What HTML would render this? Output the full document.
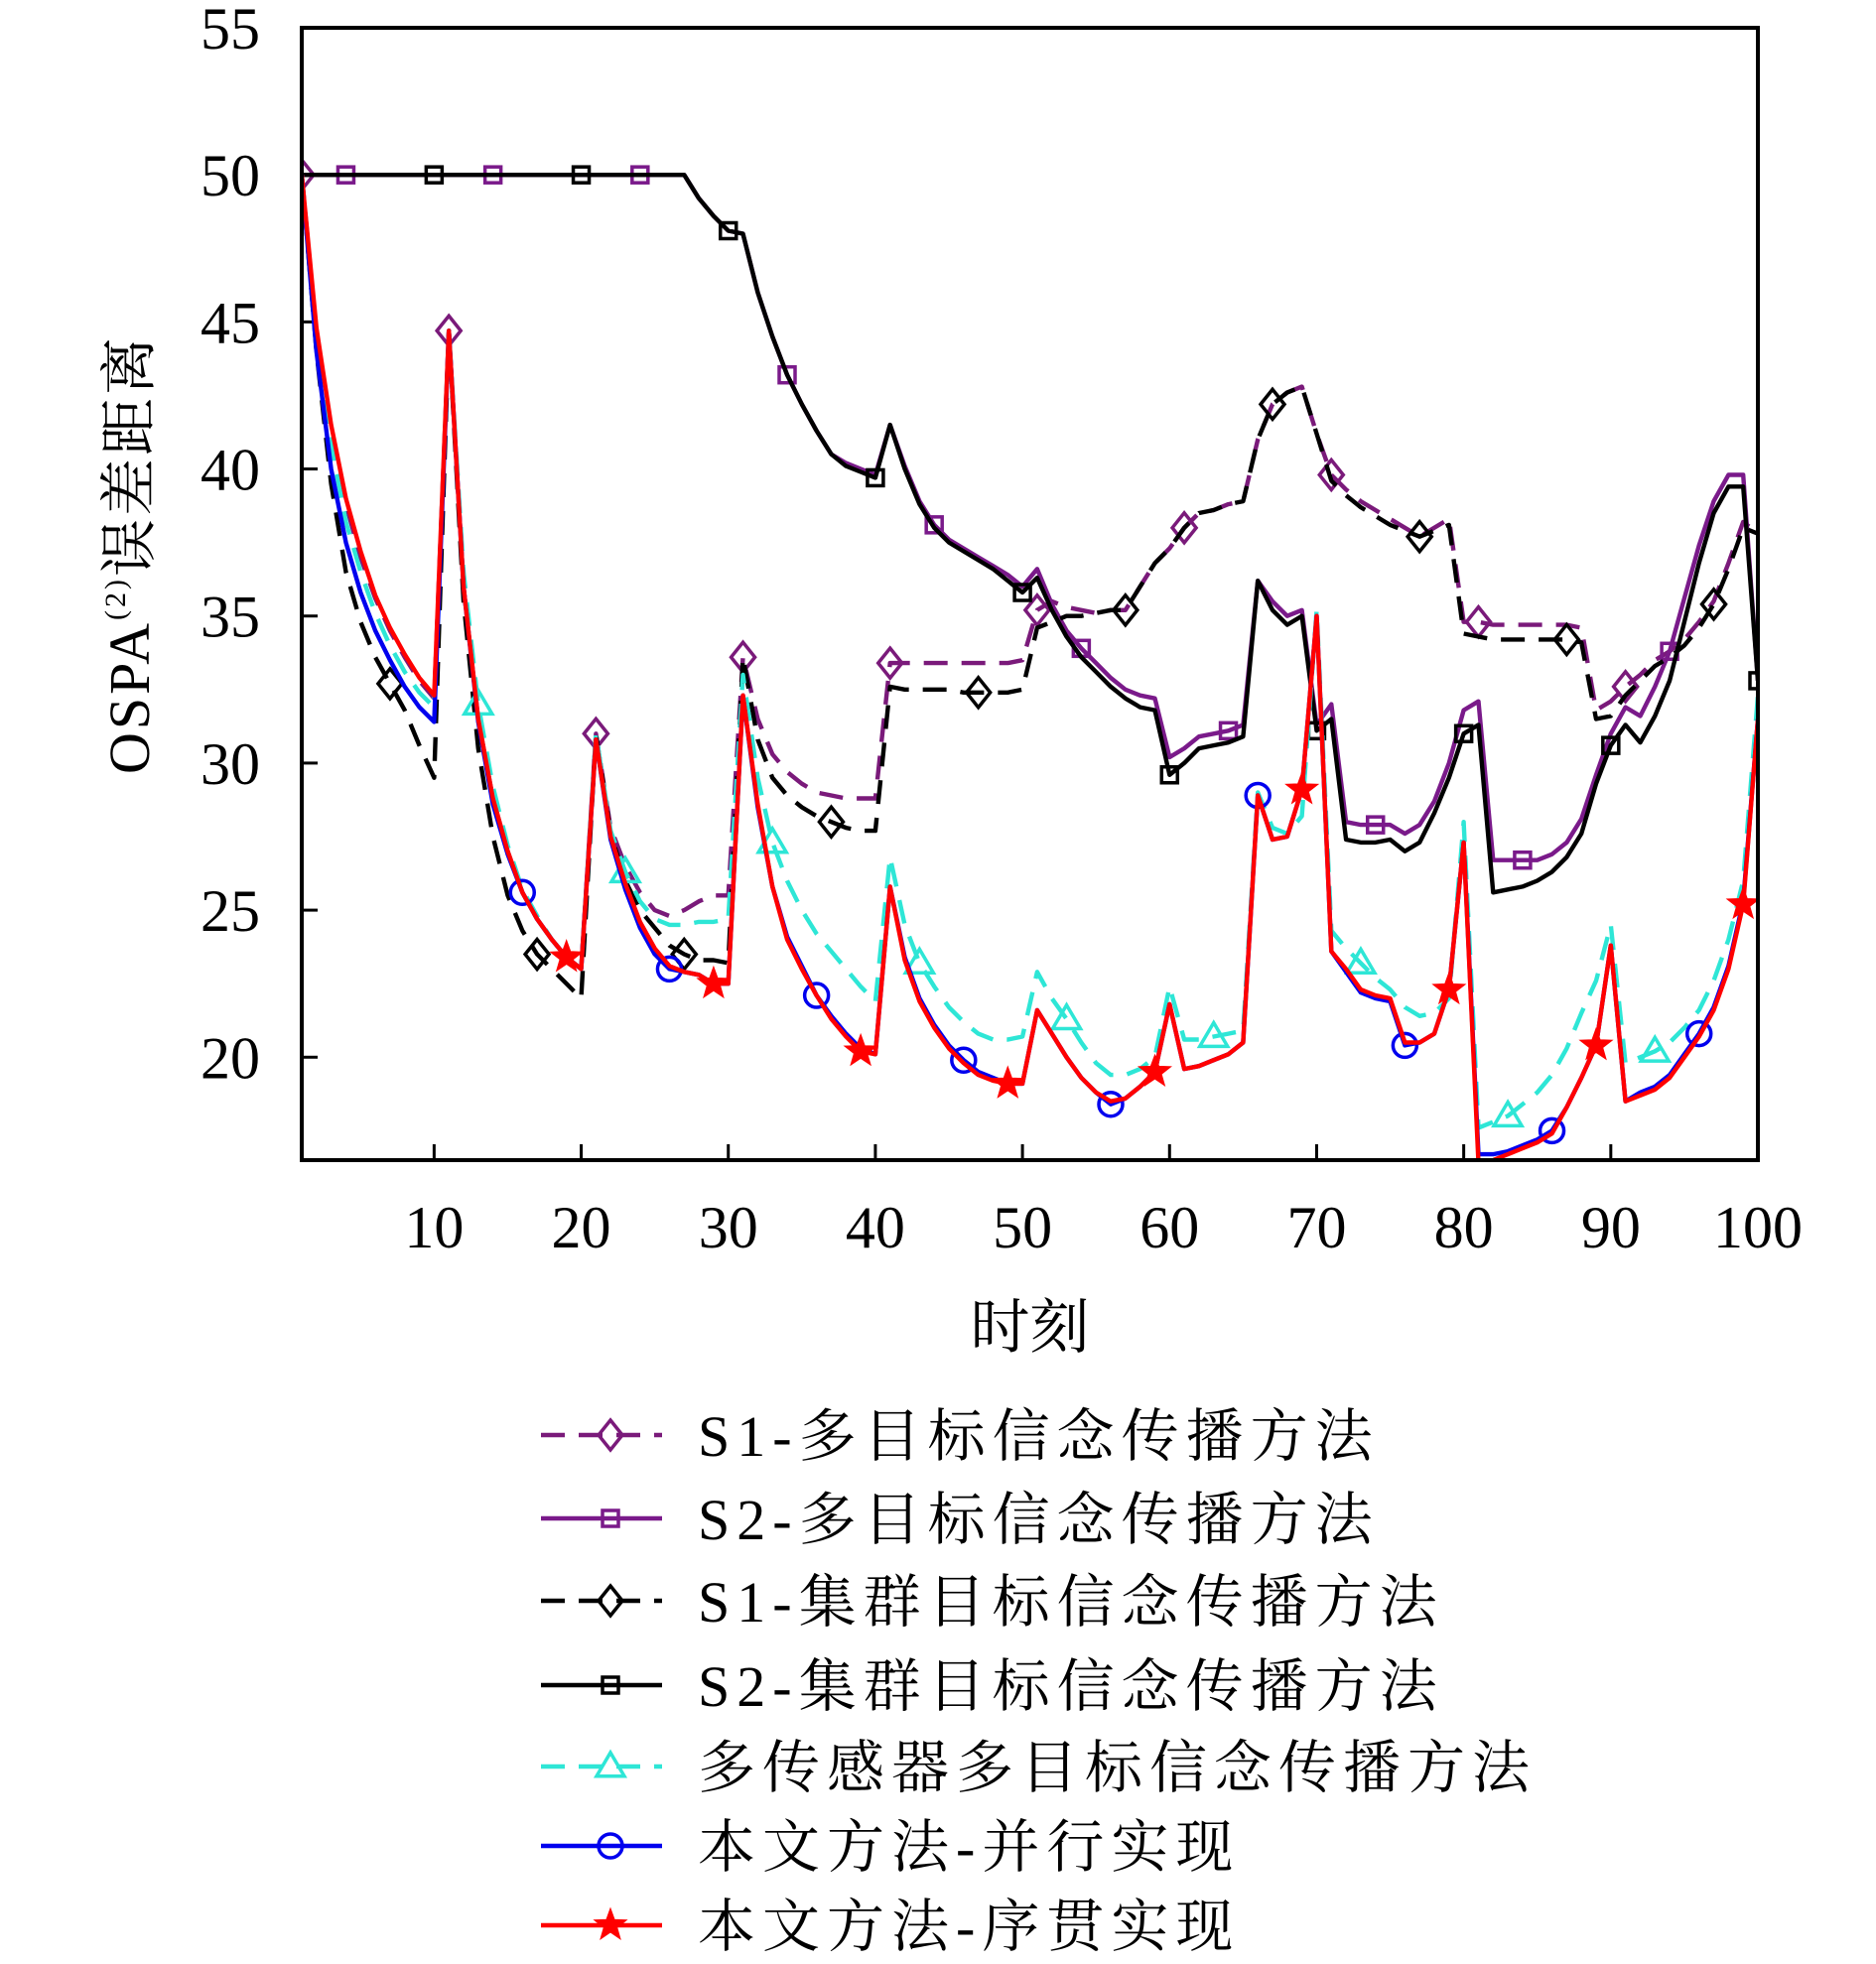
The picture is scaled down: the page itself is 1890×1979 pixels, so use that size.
<!DOCTYPE html>
<html><head><meta charset="utf-8">
<style>
html,body{margin:0;padding:0;background:#fff;}
svg{display:block;}
text{font-family:"Liberation Serif","Noto Serif CJK SC",serif;fill:#000;}
</style></head>
<body>
<svg id="chart" width="1890" height="1979" viewBox="0 0 1890 1979" xmlns="http://www.w3.org/2000/svg"></svg>
<script>
const timeSteps = Array.from({length:100},(_,i)=>i+1);
const xTicks = [10,20,30,40,50,60,70,80,90,100];
const yTicks = [20,25,30,35,40,45,50,55];
const seriesNames = ["S1-多目标信念传播方法","S2-多目标信念传播方法","S1-集群目标信念传播方法","S2-集群目标信念传播方法","多传感器多目标信念传播方法","本文方法-并行实现","本文方法-序贯实现"];
const redVals = [50,44.8,41.5,39.0,37.2,35.7,34.6,33.7,32.9,32.3,44.7,36,31.5,28.8,27,25.6,24.7,24.0,23.4,23.0,30.8,27.5,25.9,24.6,23.7,23.1,22.9,22.8,22.5,22.5,32.3,28.6,25.8,24.0,23.0,22.1,21.3,20.7,20.2,20.1,25.8,23.3,21.9,21.0,20.3,19.8,19.4,19.2,19.1,19.1,21.6,20.8,20.0,19.3,18.8,18.5,18.6,19.0,19.5,21.8,19.6,19.7,19.9,20.1,20.5,28.9,27.4,27.5,29.1,35.0,23.6,23.0,22.3,22.1,22.0,20.5,20.5,20.8,22.3,27.3,16.4,16.5,16.7,16.9,17.1,17.4,18.3,19.3,20.4,23.8,18.5,18.7,18.9,19.3,20.0,20.7,21.6,23.0,25.2,31.5];
const blueVals = [50,44.0,40.0,37.5,35.8,34.5,33.5,32.6,31.9,31.4,44.7,36,31.4,28.6,26.9,25.6,24.7,24.0,23.4,23.0,30.8,27.4,25.7,24.4,23.5,23.0,22.9,22.8,22.5,22.5,32.3,28.5,25.8,24.1,23.1,22.1,21.4,20.8,20.3,20.1,25.8,23.4,22.0,21.1,20.4,19.9,19.5,19.3,19.1,19.1,21.6,20.8,20.0,19.3,18.8,18.4,18.6,19.0,19.5,21.8,19.6,19.7,19.9,20.1,20.5,28.9,27.4,27.5,29.1,35.0,23.6,22.9,22.2,22.0,21.9,20.4,20.5,20.8,22.3,27.3,16.7,16.7,16.8,17.0,17.2,17.5,18.3,19.3,20.4,23.8,18.5,18.8,19.0,19.4,20.1,20.8,21.7,23.1,25.3,31.5];
const cyanVals = [50,44.4,40.8,38.2,36.5,35.1,34.0,33.1,32.4,31.9,44.7,36.5,32.0,29.2,27.2,25.7,24.8,24.0,23.4,23.0,31.0,27.7,26.3,25.3,24.7,24.5,24.5,24.6,24.6,24.7,33.0,29.5,27.3,26.0,25.0,24.2,23.6,23.0,22.4,21.9,26.8,24.5,23.2,22.4,21.7,21.2,20.8,20.6,20.6,20.7,22.9,22.0,21.3,20.5,19.8,19.4,19.4,19.6,20.0,22.4,20.6,20.6,20.7,20.8,20.9,29.0,27.8,27.6,28.2,35.2,24.3,23.7,23.2,22.7,22.3,21.7,21.4,21.5,22.0,28.0,17.6,17.8,18.0,18.4,18.8,19.4,20.3,21.5,22.6,24.5,19.8,20.0,20.2,20.5,21.0,21.6,22.6,24.0,26.0,32.3];
const s1MultiVals = [50,44.6,41.2,38.8,37.0,35.6,34.5,33.6,32.8,32.2,44.7,36,31.5,28.8,27,25.6,24.7,24.0,23.4,23.0,31.0,27.8,26.5,25.6,25.0,24.8,25.0,25.3,25.5,25.5,33.6,31.5,30.3,29.7,29.3,29.0,28.9,28.8,28.8,28.8,33.4,33.4,33.4,33.4,33.4,33.4,33.4,33.4,33.4,33.5,35.2,35.5,35.3,35.2,35.1,35.2,35.2,36.0,36.8,37.3,38.0,38.5,38.6,38.8,38.9,41.0,42.2,42.6,42.8,41.2,39.8,39.3,38.9,38.6,38.3,38.0,37.7,38.0,38.3,34.8,34.8,34.7,34.7,34.7,34.7,34.7,34.7,34.6,31.8,32.1,32.6,33.0,33.5,33.8,34.2,34.8,35.5,36.8,38.2,37.8];
const s1ClusterVals = [50,44.0,39.5,36.5,34.8,33.6,32.7,31.8,30.6,29.5,44.7,35.5,30.5,27.5,25.5,24.3,23.5,23.0,22.5,22.0,31.0,27.6,26.0,25.0,24.4,23.8,23.5,23.3,23.3,23.2,33.6,30.8,29.5,28.9,28.5,28.2,28.0,27.8,27.7,27.7,32.6,32.5,32.5,32.5,32.5,32.4,32.4,32.4,32.4,32.5,34.6,34.8,35.0,35.0,35.1,35.2,35.2,36.0,36.8,37.3,38.0,38.5,38.6,38.8,38.9,41.0,42.2,42.6,42.8,41.2,39.6,39.1,38.7,38.4,38.1,37.9,37.7,37.9,38.1,34.4,34.3,34.2,34.2,34.2,34.2,34.2,34.2,34.1,31.5,31.6,32.3,32.8,33.3,33.6,34.0,34.6,35.4,36.6,38.0,37.8];
const s2MultiVals = [50,50,50,50,50,50,50,50,50,50,50,50,50,50,50,50,50,50,50,50,50,50,50,50,50,50,50,49.2,48.6,48.1,48.0,46,44.5,43.2,42.2,41.3,40.5,40.2,40.0,39.8,41.5,40.1,38.9,38.1,37.6,37.3,37.0,36.7,36.4,36.0,36.6,35.4,34.5,33.9,33.4,32.9,32.5,32.3,32.2,30.2,30.5,30.9,31.0,31.1,31.3,36.2,35.5,35.0,35.2,31.3,32.0,28.0,27.9,27.9,27.9,27.6,27.9,28.7,30.0,31.8,32.1,26.7,26.7,26.7,26.7,26.9,27.3,28.1,29.6,31.0,31.9,31.6,32.6,33.8,35.6,37.4,38.9,39.8,39.8,32.8];
const s2ClusterVals = [50,50,50,50,50,50,50,50,50,50,50,50,50,50,50,50,50,50,50,50,50,50,50,50,50,50,50,49.2,48.6,48.1,48.0,46,44.5,43.2,42.2,41.3,40.5,40.1,39.9,39.7,41.5,40.0,38.8,38.0,37.5,37.2,36.9,36.6,36.2,35.8,36.3,35.2,34.3,33.6,33.1,32.6,32.2,31.9,31.8,29.6,30.0,30.5,30.6,30.7,30.9,36.2,35.2,34.7,35.0,31.1,31.5,27.4,27.3,27.3,27.4,27.0,27.3,28.3,29.5,31.0,31.3,25.6,25.7,25.8,26.0,26.3,26.8,27.6,29.3,30.6,31.3,30.7,31.6,32.8,34.8,36.8,38.5,39.4,39.4,32.8];

const svg = document.getElementById('chart');
const NS = 'http://www.w3.org/2000/svg';
const L=304,R=1771,T=28,B=1169;
const xMin=1,xMax=100,yMin=16.5,yMax=55;
function xs(v){return L+(v-xMin)/(xMax-xMin)*(R-L);}
function ys(v){return B-(v-yMin)/(yMax-yMin)*(B-T);}
function mk(tag,attrs,parent){const e=document.createElementNS(NS,tag);for(const k in attrs)e.setAttribute(k,attrs[k]);(parent||svg).appendChild(e);return e;}

const defs=mk('defs',{});
const cp=mk('clipPath',{id:'plotclip'},defs);
mk('rect',{x:L,y:T,width:R-L,height:B-T},cp);

xTicks.forEach(t=>{
  const tk=mk('line',{x1:xs(t),x2:xs(t),y1:B,y2:B-16,stroke:'#000','stroke-width':3});
  
  
  const tx=mk('text',{x:xs(t),y:B+88,'text-anchor':'middle','font-size':60});
  tx.textContent=t;
  
  
});
yTicks.forEach(t=>{
  const tk=mk('line',{x1:L,x2:L+16,y1:ys(t),y2:ys(t),stroke:'#000','stroke-width':3});
  
  
  const tx=mk('text',{x:L-42,y:ys(t)+21,'text-anchor':'end','font-size':60});
  tx.textContent=t;
  
  
});

const seriesDefs=[
 {vals:s1MultiVals,color:'#7a1a7a',dash:'24,14',marker:'diamond',mstart:1},
 {vals:s2MultiVals,color:'#7a1a8a',dash:'',marker:'square',mstart:4},
 {vals:s1ClusterVals,color:'#000',dash:'24,14',marker:'diamond',mstart:7},
 {vals:s2ClusterVals,color:'#000',dash:'',marker:'square',mstart:10},
 {vals:cyanVals,color:'#2ee6d6',dash:'24,14',marker:'triangle',mstart:13},
 {vals:blueVals,color:'#0000ee',dash:'',marker:'circle',mstart:16},
 {vals:redVals,color:'#ff0000',dash:'',marker:'star',mstart:19}
];
function drawMarker(type,cx,cy,color,g){
  if(type==='diamond'){const r=15;return mk('polygon',{points:`${cx},${cy-r} ${cx+r*0.8},${cy} ${cx},${cy+r} ${cx-r*0.8},${cy}`,fill:'none',stroke:color,'stroke-width':3.5},g);}
  if(type==='square'){const r=8;return mk('rect',{x:cx-r,y:cy-r,width:2*r,height:2*r,fill:'none',stroke:color,'stroke-width':3.5},g);}
  if(type==='triangle'){const r=14;return mk('polygon',{points:`${cx},${cy-r} ${cx+r},${cy+r*0.7} ${cx-r},${cy+r*0.7}`,fill:'none',stroke:color,'stroke-width':3.5},g);}
  if(type==='circle'){return mk('circle',{cx:cx,cy:cy,r:12,fill:'none',stroke:color,'stroke-width':3.5},g);}
  if(type==='star'){const r1=17,r2=7;let p=[];for(let i=0;i<10;i++){const a=-Math.PI/2+i*Math.PI/5;const r=i%2?r2:r1;p.push((cx+r*Math.cos(a)).toFixed(1)+','+(cy+r*Math.sin(a)).toFixed(1));}return mk('polygon',{points:p.join(' '),fill:color,stroke:color,'stroke-width':1},g);}
}
seriesDefs.forEach((sd,si)=>{
  const g=mk('g',{'clip-path':'url(#plotclip)'});
  
  
  const d=sd.vals.map((v,i)=>(i?'L':'M')+xs(timeSteps[i]).toFixed(1)+','+ys(v).toFixed(1)).join(' ');
  const p=mk('path',{d:d,fill:'none',stroke:sd.color,'stroke-width':4.4,'stroke-dasharray':sd.dash,'stroke-linejoin':'round'},g);
  
  
  for(let i=sd.mstart-1;i<sd.vals.length;i+=10){
    const m=drawMarker(sd.marker,xs(timeSteps[i]),ys(sd.vals[i]),sd.color,g);
    
    
  }
});

const fr=mk('rect',{x:L,y:T,width:R-L,height:B-T,fill:'none',stroke:'#000','stroke-width':4});



const yt=mk('text',{x:0,y:0,'font-size':58,'text-anchor':'middle','letter-spacing':3,transform:`translate(150,${(T+B)/2-40}) rotate(-90)`});
yt.innerHTML='OSPA<tspan font-size="30" dy="-24">(2)</tspan><tspan dy="24">误差距离</tspan>';


const xt=mk('text',{x:(L+R)/2,y:1358,'font-size':60,'text-anchor':'middle'});
xt.textContent='时刻';



const legY=[1446,1530,1613,1698,1780,1860,1940];
seriesDefs.forEach((sd,si)=>{
  const g=mk('g',{});
  
  
  const y=legY[si];
  mk('line',{x1:545,x2:667,y1:y,y2:y,stroke:sd.color,'stroke-width':4.4,'stroke-dasharray':sd.dash?'24,14':''},g);
  drawMarker(sd.marker,615,y,sd.color,g);
  const tx=mk('text',{x:703,y:y+21,'font-size':58,'letter-spacing':7},g);
  tx.textContent=seriesNames[si];
});
</script>
</body></html>
